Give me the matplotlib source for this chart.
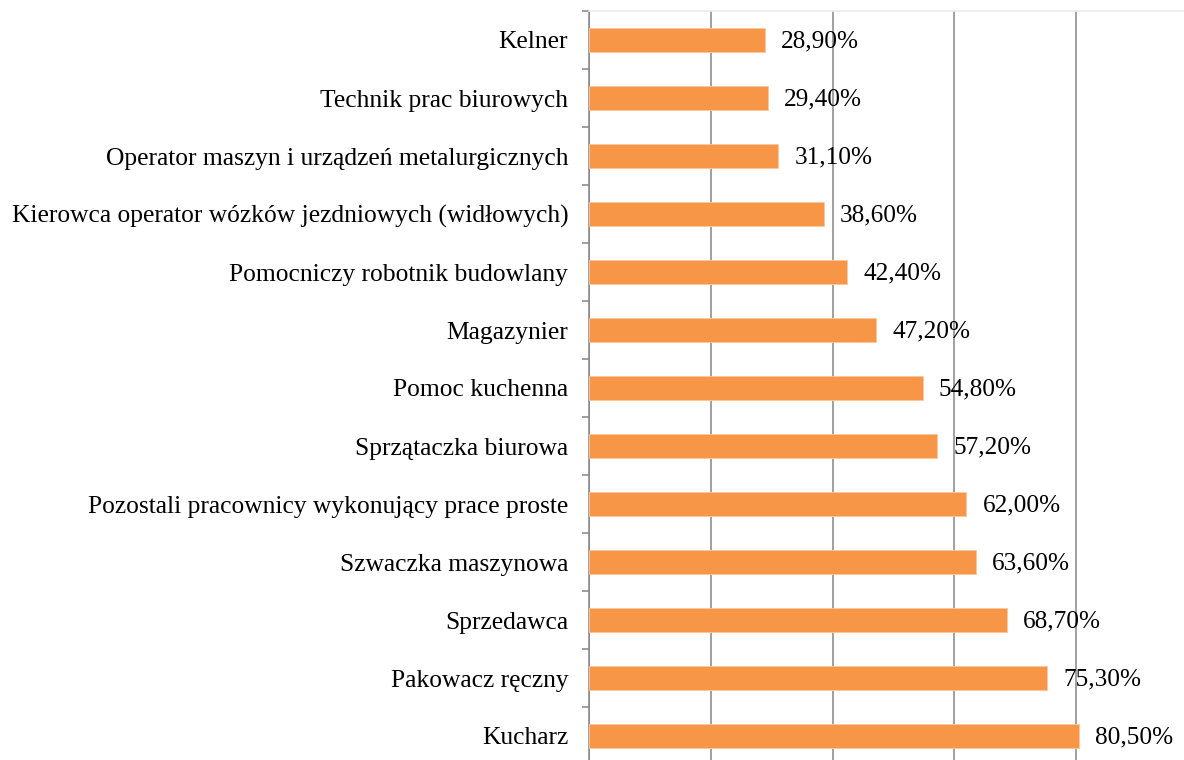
import matplotlib
matplotlib.use("Agg")
import matplotlib.pyplot as plt
from matplotlib.ticker import FixedLocator

plt.rcParams['font.family'] = ['Liberation Serif', 'DejaVu Serif']

occupations = [
    "Kelner",
    "Technik prac biurowych",
    "Operator maszyn i urządzeń metalurgicznych",
    "Kierowca operator wózków jezdniowych (widłowych)",
    "Pomocniczy robotnik budowlany",
    "Magazynier",
    "Pomoc kuchenna",
    "Sprzątaczka biurowa",
    "Pozostali pracownicy wykonujący prace proste",
    "Szwaczka maszynowa",
    "Sprzedawca",
    "Pakowacz ręczny",
    "Kucharz",
]
shares = [28.9, 29.4, 31.1, 38.6, 42.4, 47.2, 54.8, 57.2, 62.0, 63.6, 68.7, 75.3, 80.5]

fig = plt.figure(figsize=(11.84, 7.6), dpi=100)
ax = fig.add_axes([589 / 1184, -5 / 760, 608.75 / 1184, 754 / 760])

pos = list(range(len(occupations)))
ax.barh(pos, shares, height=0.4, color="#F79646", edgecolor="#FBC8A0", linewidth=0.6, zorder=3)

for y, v in zip(pos, shares):
    ax.annotate(f"{v:.2f}%".replace(".", ","), (v, y), xytext=(11.5, -1),
                textcoords="offset points", va="center", ha="left",
                fontsize=18.2, color="#000000", zorder=4)

ax.set_xlim(0, 100)
ax.set_ylim(len(occupations) - 0.5, -0.5)

ax.set_xticks([0, 20, 40, 60, 80, 100])
ax.tick_params(axis="x", length=0, labelbottom=False)
ax.grid(axis="x", color="#868686", linewidth=1.1, zorder=1)

ax.set_yticks(pos)
ax.set_yticklabels(occupations, fontsize=18.4)
ax.tick_params(axis="y", which="major", length=0, pad=15)
ax.yaxis.set_minor_locator(FixedLocator([p + 0.5 for p in range(-1, len(occupations))]))
ax.tick_params(axis="y", which="minor", length=5, width=1.1, color="#868686")

for s in ("right", "bottom"):
    ax.spines[s].set_visible(False)
ax.spines["left"].set_color("#868686")
ax.spines["left"].set_linewidth(1.1)
ax.spines["top"].set_color("#EBEBEB")
ax.spines["top"].set_linewidth(1.2)

fig.savefig("out.png", dpi=100)
